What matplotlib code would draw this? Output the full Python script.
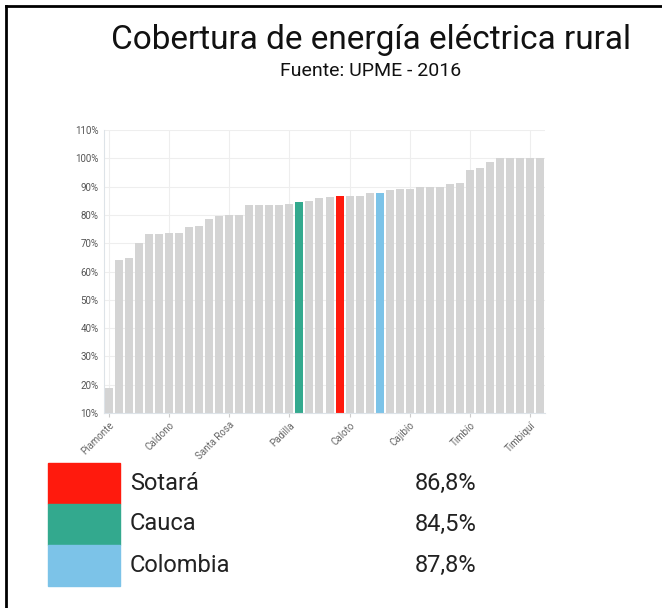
import matplotlib
matplotlib.use("Agg")
import matplotlib.pyplot as plt
from matplotlib.patches import Rectangle
from matplotlib.lines import Line2D

# rural electricity coverage (%), sorted, 42 municipios + Cauca + Colombia
coverage = [
    18.7, 64.1, 64.7, 69.9, 73.4, 73.4, 73.7, 73.7, 75.7, 76.0,
    78.4, 79.5, 79.8, 79.8, 83.5, 83.5, 83.5, 83.5, 83.7, 84.5,
    85.0, 86.0, 86.5, 86.8, 86.8, 86.8, 87.6, 87.8, 88.7, 89.1,
    89.1, 89.7, 90.0, 90.0, 90.8, 91.2, 96.0, 96.4, 98.6, 100.0,
    100.0, 100.0, 100.0, 100.0,
]
highlight = {19: "#33a98e", 23: "#ff1a0d", 27: "#7cc3e8"}
tick_idx = [0, 6, 12, 18, 24, 30, 36, 42]
tick_names = ["Piamonte", "Caldono", "Santa Rosa", "Padilla",
              "Caloto", "Cajibío", "Timbío", "Timbiquí"]
yticks = list(range(10, 111, 10))

legend_names = ["Sotará", "Cauca", "Colombia"]
legend_values = ["86,8%", "84,5%", "87,8%"]
legend_colors = ["#ff1a0d", "#33a98e", "#7cc3e8"]

plt.rcParams["font.family"] = ["Roboto", "DejaVu Sans"]

fig = plt.figure(figsize=(6.62, 6.08), dpi=100)
W, H = 662, 608

ax = fig.add_axes([104 / W, 1 - 413 / H, 441 / W, 283 / H])
colors = [highlight.get(i, "#d4d4d4") for i in range(len(coverage))]
ax.bar(range(len(coverage)), coverage, width=0.8, color=colors, zorder=2)
ax.set_xlim(-0.5, len(coverage) - 0.5)
ax.set_ylim(10, 110)
ax.set_yticks(yticks)
ax.set_yticklabels([f"{v}%" for v in yticks], fontsize=7, color="#555555")
ax.set_xticks(tick_idx)
ax.set_xticklabels(tick_names, rotation=45, ha="right", rotation_mode="anchor",
                   fontsize=7, color="#666666")
ax.tick_params(axis="y", length=0, pad=4)
ax.tick_params(axis="x", length=3, color="#cccccc", pad=2)
ax.grid(True, color="#eeeeee", linewidth=0.8, zorder=0)
for side in ("top", "right"):
    ax.spines[side].set_visible(False)
for side in ("left", "bottom"):
    ax.spines[side].set_color("#dde3e8")

fig.text(371 / W, 1 - 40 / H, "Cobertura de energía eléctrica rural",
         ha="center", va="center", fontsize=24, color="#111111")
fig.text(371 / W, 1 - 71 / H, "Fuente: UPME - 2016",
         ha="center", va="center", fontsize=14, color="#111111")

# legend block
top = 463
for i, (name, val, col) in enumerate(zip(legend_names, legend_values, legend_colors)):
    y0 = top + i * 41
    fig.add_artist(Rectangle((48 / W, 1 - (y0 + 41) / H), 72 / W, 41 / H,
                             transform=fig.transFigure, color=col))
    fig.text(130 / W, 1 - (y0 + 20) / H, name, ha="left", va="center",
             fontsize=17, color="#222222")
    fig.text(415 / W, 1 - (y0 + 20) / H, val, ha="left", va="center",
             fontsize=17, color="#222222")

# cropped frame: top and left edges only
fig.add_artist(Line2D([6 / W, 1], [1 - 6 / H, 1 - 6 / H], color="black", lw=2,
                      transform=fig.transFigure))
fig.add_artist(Line2D([6 / W, 6 / W], [0, 1 - 6 / H], color="black", lw=2,
                      transform=fig.transFigure))

fig.savefig("out.png", dpi=100, facecolor="white")
